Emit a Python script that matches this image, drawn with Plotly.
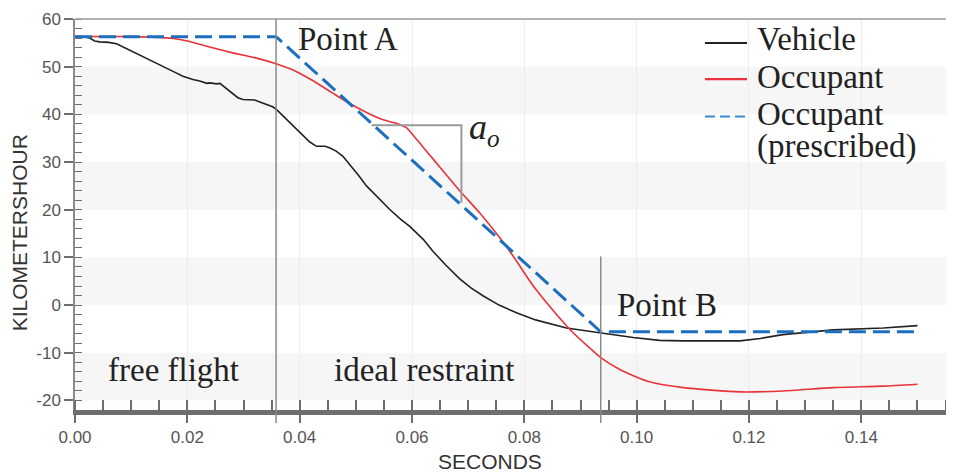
import plotly.graph_objects as go

# ---------------- data ----------------
vehicle_t = [0.000, 0.0015, 0.0026, 0.0035, 0.0044, 0.006, 0.0074, 0.009, 0.0103, 0.012, 0.0133,
             0.015, 0.0163, 0.018, 0.0192, 0.021, 0.0222, 0.0235, 0.024, 0.0252, 0.0258, 0.027,
             0.0281, 0.029, 0.0299, 0.031, 0.032, 0.0329, 0.034, 0.0352, 0.0359, 0.0375, 0.0388,
             0.040, 0.0418, 0.043, 0.0445, 0.0453, 0.0465, 0.0477, 0.049, 0.0505, 0.0519, 0.054,
             0.056, 0.058, 0.0596, 0.062, 0.0638, 0.066, 0.0685, 0.0705, 0.0727, 0.0755, 0.0786,
             0.082, 0.0875, 0.0934, 0.0994, 0.1041, 0.1083, 0.1184, 0.122, 0.126, 0.135, 0.1439, 0.150]
vehicle_v = [56.3, 56.3, 56.0, 55.4, 55.2, 55.1, 54.8, 53.9, 53.2, 52.2, 51.5,
             50.5, 49.8, 48.7, 48.0, 47.3, 47.0, 46.5, 46.6, 46.4, 46.5, 45.3,
             44.2, 43.5, 43.1, 43.0, 43.0, 42.6, 42.1, 41.6, 41.0, 39.2, 37.6,
             36.2, 34.2, 33.3, 33.3, 33.0, 32.3, 31.2, 29.4, 27.2, 25.0, 22.4,
             20.1, 18.0, 16.5, 13.8, 11.2, 8.4, 5.5, 3.6, 1.9, 0.0, -1.6,
             -3.1, -4.8, -5.8, -6.8, -7.4, -7.5, -7.5, -7.0, -6.2, -5.2, -4.8, -4.3]

occupant_t = [0.000, 0.010, 0.0175, 0.020, 0.0222, 0.025, 0.0281, 0.032, 0.0358, 0.039, 0.042,
              0.0457, 0.048, 0.0519, 0.055, 0.0578, 0.059, 0.061, 0.064, 0.0685, 0.072, 0.0757,
              0.078, 0.0816, 0.0857, 0.0887, 0.0936, 0.097, 0.1018, 0.1083, 0.1184, 0.126,
              0.135, 0.1439, 0.150]
occupant_v = [56.3, 56.3, 55.9, 55.4, 54.7, 53.8, 52.9, 51.9, 50.6, 49.2, 47.3,
              44.6, 42.9, 40.4, 38.8, 37.9, 37.2, 34.5, 30.3, 24.0, 19.4, 14.0,
              10.3, 4.0, -1.9, -5.8, -11.0, -13.5, -15.9, -17.3, -18.2, -18.0,
              -17.3, -17.0, -16.6]

prescribed_t = [0.000, 0.0358, 0.0936, 0.150]
prescribed_v = [56.3, 56.3, -5.6, -5.6]

point_a_t = 0.0358
point_b_t = 0.0936
point_b_top = 10.2

bands = [(40, 50), (20, 30), (0, 10), (-20, -10)]
x_ticks = [0.00, 0.02, 0.04, 0.06, 0.08, 0.10, 0.12, 0.14]
x_tick_labels = ["0.00", "0.02", "0.04", "0.06", "0.08", "0.10", "0.12", "0.14"]
y_ticks = [60, 50, 40, 30, 20, 10, 0, -10, -20]
y_tick_labels = ["60", "50", "40", "30", "20", "10", "0", "-10", "-20"]

legend_labels = ["Vehicle", "Occupant", "Occupant", "(prescribed)"]

# ---------------- figure ----------------
SERIF = "Liberation Serif, Times New Roman, serif"
SANS = "Liberation Sans, Arial, sans-serif"
BLACK = "#222222"
RED = "#e8333a"
BLUE = "#1c6fbf"

fig = go.Figure()
fig.add_trace(go.Scatter(x=vehicle_t, y=vehicle_v, mode="lines", name="Vehicle",
                         line=dict(color=BLACK, width=1.6), showlegend=False))
fig.add_trace(go.Scatter(x=occupant_t, y=occupant_v, mode="lines", name="Occupant",
                         line=dict(color=RED, width=1.6, shape="spline", smoothing=0.6),
                         showlegend=False))
fig.add_trace(go.Scatter(x=prescribed_t, y=prescribed_v, mode="lines",
                         name="Occupant (prescribed)",
                         line=dict(color=BLUE, width=3, dash="17px,7px"), showlegend=False))

shapes = []
for lo, hi in bands:
    shapes.append(dict(type="rect", xref="paper", yref="y", x0=0, x1=1, y0=lo, y1=hi,
                       fillcolor="#f6f6f6", line=dict(width=0), layer="below"))
# top border
shapes.append(dict(type="line", xref="paper", yref="paper", x0=0, x1=1, y0=1, y1=1,
                   line=dict(color="#9a9a9a", width=1.5)))
# Point A / Point B vertical lines
shapes.append(dict(type="line", xref="x", yref="paper", x0=point_a_t, x1=point_a_t, y0=1, y1=-0.033,
                   line=dict(color="#8a8a8a", width=1.5)))
shapes.append(dict(type="line", xref="x", yref="paper", x0=point_b_t, x1=point_b_t,
                   y0=(point_b_top + 22) / 82, y1=-0.033,
                   line=dict(color="#8a8a8a", width=1.5)))
# a_o bracket
shapes.append(dict(type="path", xref="x", yref="y",
                   path="M 0.0528,37.7 L 0.0688,37.7 L 0.0688,21.5",
                   line=dict(color="#9a9a9a", width=2)))

# manual legend (symbols)
leg_x0, leg_x1 = 0.7167, 0.7645
shapes.append(dict(type="line", xref="paper", yref="paper", x0=leg_x0, x1=leg_x1, y0=0.9384, y1=0.9384,
                   line=dict(color=BLACK, width=2)))
shapes.append(dict(type="line", xref="paper", yref="paper", x0=leg_x0, x1=leg_x1, y0=0.8463, y1=0.8463,
                   line=dict(color=RED, width=2.2)))
shapes.append(dict(type="line", xref="paper", yref="paper", x0=leg_x0, x1=leg_x1, y0=0.7506, y1=0.7506,
                   line=dict(color="#3a8ad0", width=2.2, dash="10px,5px")))

TXT = dict(family=SERIF, size=33, color="#222")
annotations = [
    dict(text="Point A", x=0.0393, y=55.9, xref="x", yref="y", xanchor="left", yanchor="middle",
         showarrow=False, font=TXT),
    dict(text="Point B", x=0.0962, y=0.0, xref="x", yref="y", xanchor="left", yanchor="middle",
         showarrow=False, font=TXT),
    dict(text="free flight", x=0.0176, y=-13.7, xref="x", yref="y", xanchor="center", yanchor="middle",
         showarrow=False, font=TXT),
    dict(text="ideal restraint", x=0.0623, y=-13.7, xref="x", yref="y", xanchor="center", yanchor="middle",
         showarrow=False, font=TXT),
    dict(text="<i>a</i><sub><i>o</i></sub>", x=0.0698, y=36.8, xref="x", yref="y", xanchor="left",
         yanchor="middle", showarrow=False, font=dict(family=SERIF, size=36, color="#222")),
    dict(text="KILOMETERSHOUR", x=-0.0632, y=0.453, xref="paper", yref="paper", textangle=-90,
         xanchor="center", yanchor="middle", showarrow=False,
         font=dict(family=SANS, size=21, color="#333")),
    dict(text="SECONDS", x=0.472, y=-0.1325, xref="paper", yref="paper",
         xanchor="center", yanchor="middle", showarrow=False,
         font=dict(family=SANS, size=21, color="#333")),
]
for label, ymid in zip(legend_labels, [0.9494, 0.8524, 0.7578, 0.674]):
    annotations.append(dict(text=label, x=0.7736, y=ymid, xref="paper", yref="paper",
                            xanchor="left", yanchor="middle", showarrow=False, font=TXT))

fig.update_layout(
    width=946, height=464,
    margin=dict(l=67, r=0, t=11, b=62),
    paper_bgcolor="white", plot_bgcolor="white",
    shapes=shapes, annotations=annotations,
    showlegend=False,
    xaxis=dict(range=[0, 0.1565], tickvals=x_ticks, ticktext=x_tick_labels,
               showgrid=True, gridcolor="#ececec", gridwidth=1, zeroline=False,
               showline=True, linecolor="#6e6e6e", linewidth=5,
               ticks="outside", ticklen=8, tickwidth=1.5, tickcolor="#6e6e6e",
               minor=dict(dtick=0.005, ticks="inside", ticklen=10, tickwidth=1.5,
                          tickcolor="#6e6e6e", showgrid=False),
               tickfont=dict(family=SANS, size=17, color="#555")),
    yaxis=dict(range=[-22, 60], tickvals=y_ticks, ticktext=y_tick_labels,
               showgrid=False, zeroline=False,
               showline=True, linecolor="#8a8a8a", linewidth=1.5,
               ticks="outside", ticklen=9, tickwidth=1.5, tickcolor="#6e6e6e",
               minor=dict(dtick=2, ticks="inside", ticklen=7, tickwidth=1.2,
                          tickcolor="#6e6e6e", showgrid=False),
               tickfont=dict(family=SANS, size=17, color="#555")),
)

fig.write_html("out.html")
